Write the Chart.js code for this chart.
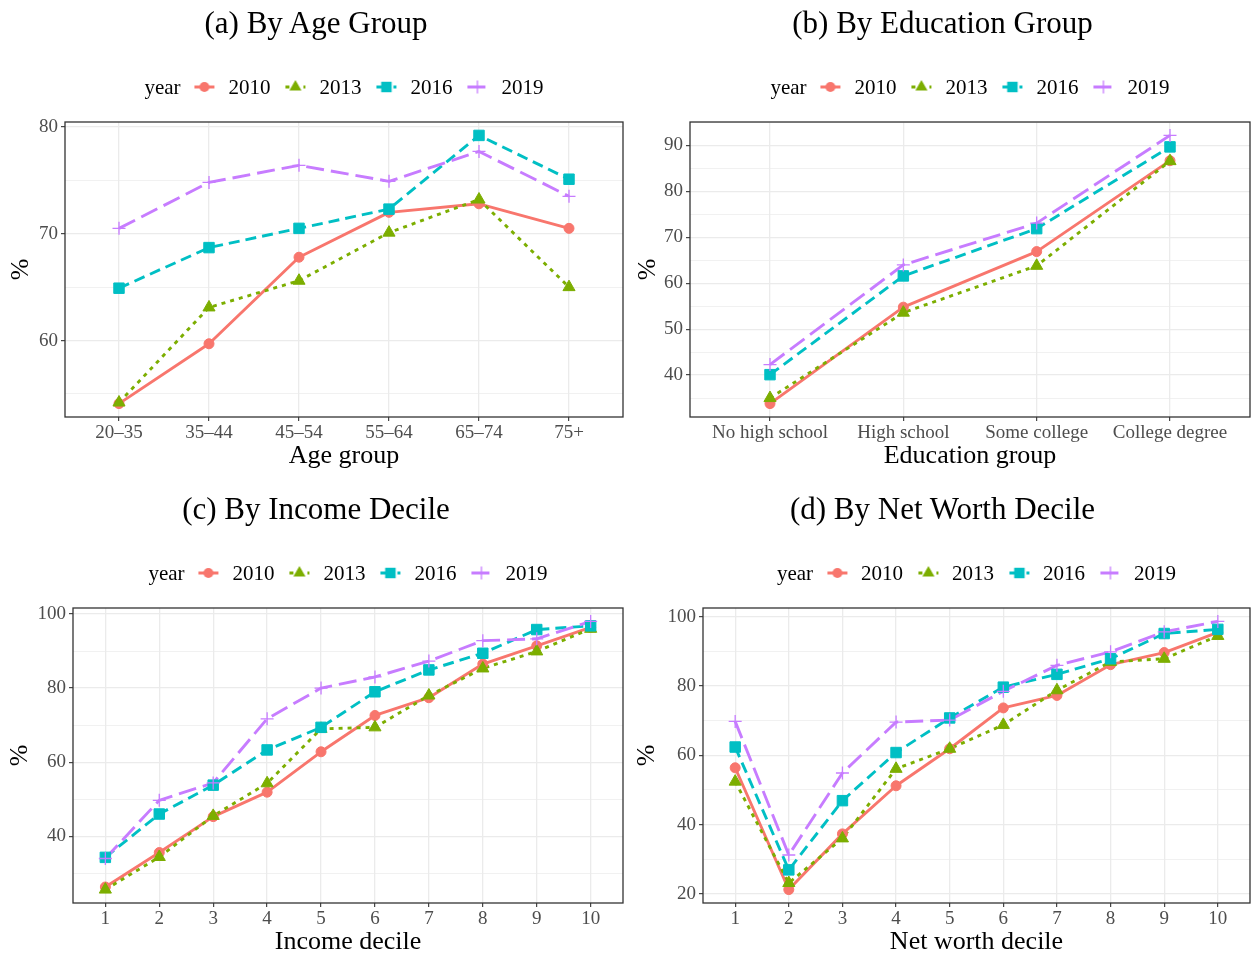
<!DOCTYPE html>
<html lang="en">
<head>
<meta charset="UTF-8">
<title>Share by group and survey year</title>
<script src="https://cdn.jsdelivr.net/npm/chart.js"></script>
<style>
  body { margin: 0; background: #fff; font-family: 'Liberation Serif', 'Times New Roman', serif; }
  #page { position: relative; width: 1253px; height: 956px; overflow: hidden; }
  .panel { position: absolute; height: 470px; }
  .panel canvas.plot { position: absolute; left: 0; top: 0; }
  .title { position: absolute; left: 0; top: 5px; width: 100%; text-align: center; font-size: 31px; line-height: 36px; color: #000; }
  .legend { position: absolute; top: 74px; display: flex; align-items: center; font-size: 21px; line-height: 26px; white-space: nowrap; transform: translateX(-50%); color: #000; }
  .legend .head { margin-right: 12px; }
  .legend .key { margin-right: 12px; }
  .legend .lab { margin-right: 13px; }
  .legend .lab:last-child { margin-right: 0; }
</style>
</head>
<body>
<div id="page"></div>
<script>
// years (legend)
const years = ['2010', '2013', '2016', '2019'];

// (a) by age group
const ageGroups = ['20–35', '35–44', '45–54', '55–64', '65–74', '75+'];
const age2010 = [54.1, 59.7, 67.8, 72.0, 72.8, 70.5];
const age2013 = [54.2, 63.1, 65.6, 70.1, 73.2, 65.0];
const age2016 = [64.9, 68.7, 70.5, 72.3, 79.2, 75.1];
const age2019 = [70.5, 74.8, 76.4, 74.9, 77.7, 73.5];
const ageTicks = [60, 70, 80];

// (b) by education group
const eduGroups = ['No high school', 'High school', 'Some college', 'College degree'];
const edu2010 = [33.8, 54.8, 66.9, 86.7];
const edu2013 = [35.0, 53.6, 63.8, 86.6];
const edu2016 = [40.1, 61.6, 71.9, 89.7];
const edu2019 = [42.3, 64.0, 73.1, 92.2];
const eduTicks = [40, 50, 60, 70, 80, 90];

// (c) by income decile
const incDeciles = ['1', '2', '3', '4', '5', '6', '7', '8', '9', '10'];
const inc2010 = [26.3, 35.6, 45.3, 51.9, 62.8, 72.6, 77.4, 86.5, 91.4, 96.4];
const inc2013 = [25.6, 34.4, 45.5, 54.3, 69.0, 69.4, 78.0, 85.3, 89.9, 96.0];
const inc2016 = [34.3, 46.0, 53.8, 63.3, 69.4, 79.0, 84.9, 89.4, 95.8, 96.8];
const inc2019 = [34.0, 49.7, 54.4, 71.7, 80.0, 83.0, 87.3, 92.8, 93.3, 98.0];
const incTicks = [40, 60, 80, 100];

// (d) by net worth decile
const nwDeciles = ['1', '2', '3', '4', '5', '6', '7', '8', '9', '10'];
const nw2010 = [56.4, 21.2, 37.3, 51.2, 61.9, 73.7, 77.3, 86.2, 89.7, 95.5];
const nw2013 = [52.4, 23.1, 36.0, 56.1, 61.9, 68.8, 78.8, 87.0, 87.9, 94.5];
const nw2016 = [62.4, 26.9, 46.9, 60.8, 70.8, 79.7, 83.4, 87.9, 95.2, 96.4];
const nw2019 = [69.8, 31.2, 54.9, 69.6, 70.2, 78.5, 86.0, 89.9, 95.7, 98.7];
const nwTicks = [20, 40, 60, 80, 100];

// series styles (ggplot hue palette)
const colors = ['#F8766D', '#7CAE00', '#00BFC4', '#C77CFF'];
const dashes = [[], [4, 5], [11, 6], [18, 7]];
const shapes = ['circle', 'triangle', 'rect', 'cross'];
const radii = [5, 7, 7.4, 6.5];

const panels = [
  { title: '(a) By Age Group', cats: ageGroups, series: [age2010, age2013, age2016, age2019], ticks: ageTicks,
    xTitle: 'Age group', left: 0, top: 0, width: 632, yWidth: 65, padRight: 9, yTitlePad: 7 },
  { title: '(b) By Education Group', cats: eduGroups, series: [edu2010, edu2013, edu2016, edu2019], ticks: eduTicks,
    xTitle: 'Education group', left: 632, top: 0, width: 621, yWidth: 58, padRight: 3, yTitlePad: 2 },
  { title: '(c) By Income Decile', cats: incDeciles, series: [inc2010, inc2013, inc2016, inc2019], ticks: incTicks,
    xTitle: 'Income decile', left: 0, top: 486, width: 632, yWidth: 73, padRight: 9, yTitlePad: 6 },
  { title: '(d) By Net Worth Decile', cats: nwDeciles, series: [nw2010, nw2013, nw2016, nw2019], ticks: nwTicks,
    xTitle: 'Net worth decile', left: 632, top: 486, width: 621, yWidth: 71, padRight: 3, yTitlePad: 1 }
];

Chart.defaults.font.family = "'Liberation Serif', 'Times New Roman', serif";

const framePlugin = {
  id: 'frame',
  afterDatasetsDraw(chart) {
    const { left, top, right, bottom } = chart.chartArea;
    const ctx = chart.ctx;
    ctx.save();
    ctx.strokeStyle = '#333333';
    ctx.lineWidth = 1.3;
    ctx.strokeRect(left, top, right - left, bottom - top);
    ctx.restore();
  }
};

function drawMarker(ctx, style, x, y, r) {
  ctx.beginPath();
  if (style === 'circle') {
    ctx.arc(x, y, r, 0, Math.PI * 2);
    ctx.fill();
  } else if (style === 'triangle') {
    for (let i = 0; i < 3; i++) {
      const a = i * 2 * Math.PI / 3;
      const px = x + Math.sin(a) * r, py = y - Math.cos(a) * r;
      if (i === 0) ctx.moveTo(px, py); else ctx.lineTo(px, py);
    }
    ctx.closePath();
    ctx.fill();
  } else if (style === 'rect') {
    const s = r * Math.SQRT1_2;
    ctx.rect(x - s, y - s, 2 * s, 2 * s);
    ctx.fill();
  } else {
    ctx.lineWidth = 1.3;
    ctx.moveTo(x - r, y); ctx.lineTo(x + r, y);
    ctx.moveTo(x, y - r); ctx.lineTo(x, y + r);
    ctx.stroke();
  }
}

function legendKey(k) {
  const c = document.createElement('canvas');
  c.width = 24; c.height = 24; c.className = 'key';
  const ctx = c.getContext('2d');
  ctx.strokeStyle = colors[k];
  ctx.fillStyle = colors[k];
  ctx.lineWidth = 3;
  ctx.setLineDash(dashes[k]);
  ctx.beginPath();
  ctx.moveTo(2, 12); ctx.lineTo(22, 12);
  ctx.stroke();
  ctx.setLineDash([]);
  drawMarker(ctx, shapes[k], 12, 12, radii[k]);
  return c;
}

function makePanel(p) {
  const page = document.getElementById('page');
  const div = document.createElement('div');
  div.className = 'panel';
  div.style.left = p.left + 'px';
  div.style.top = p.top + 'px';
  div.style.width = p.width + 'px';
  page.appendChild(div);

  const canvas = document.createElement('canvas');
  canvas.className = 'plot';
  canvas.width = p.width;
  canvas.height = 470;
  div.appendChild(canvas);

  const title = document.createElement('div');
  title.className = 'title';
  title.textContent = p.title;
  div.appendChild(title);

  const legend = document.createElement('div');
  legend.className = 'legend';
  const head = document.createElement('span');
  head.className = 'head';
  head.textContent = 'year';
  legend.appendChild(head);
  years.forEach((yr, k) => {
    legend.appendChild(legendKey(k));
    const lab = document.createElement('span');
    lab.className = 'lab';
    lab.textContent = yr;
    legend.appendChild(lab);
  });
  div.appendChild(legend);

  // ggplot-like 5% expansion of the data range
  const all = p.series.flat();
  const lo = Math.min(...all), hi = Math.max(...all);
  const yMin = lo - (hi - lo) * 0.05, yMax = hi + (hi - lo) * 0.05;
  const half = (p.ticks[1] - p.ticks[0]) / 2;
  const yVals = [];
  for (let v = p.ticks[0] - half; v <= p.ticks[p.ticks.length - 1] + half + 1e-9; v += half) {
    if (v >= yMin && v <= yMax) yVals.push(v);
  }
  const isMajor = v => p.ticks.includes(v);

  const datasets = [];
  p.series.forEach((vals, k) => {
    datasets.push({
      label: years[k] + ' line',
      data: vals.map((v, i) => ({ x: i, y: v })),
      borderColor: colors[k],
      borderWidth: 2.9,
      borderDash: dashes[k],
      borderJoinStyle: 'round',
      pointRadius: 0,
      fill: false,
      tension: 0,
      order: 8 - k
    });
  });
  p.series.forEach((vals, k) => {
    datasets.push({
      label: years[k],
      data: vals.map((v, i) => ({ x: i, y: v })),
      showLine: false,
      pointStyle: shapes[k],
      pointRadius: radii[k],
      pointBackgroundColor: colors[k],
      pointBorderColor: colors[k],
      pointBorderWidth: k === 3 ? 1.3 : 1,
      order: 4 - k
    });
  });

  const chart = new Chart(canvas, {
    type: 'line',
    data: { datasets },
    options: {
      responsive: false,
      animation: false,
      devicePixelRatio: 1,
      layout: { autoPadding: false, padding: { top: 122, right: p.padRight, bottom: 0, left: 0 } },
      plugins: { legend: { display: false }, tooltip: { enabled: false } },
      scales: {
        x: {
          type: 'linear',
          bounds: 'data',
          min: -0.6,
          max: p.cats.length - 0.4,
          afterBuildTicks: s => { s.ticks = p.cats.map((_, i) => ({ value: i })); },
          afterFit: s => { s.height = 53; s.paddingLeft = 0; s.paddingRight = 0; },
          grid: { color: '#EBEBEB', lineWidth: 1.3, tickLength: 4, tickColor: '#333333', tickWidth: 1.1 },
          border: { display: false },
          ticks: { color: '#4D4D4D', font: { size: 19 }, padding: 1, autoSkip: false, maxRotation: 0,
                   callback: v => p.cats[v] ?? '' },
          title: { display: true, text: p.xTitle, color: '#000', font: { size: 26, lineHeight: 1.1 }, padding: { top: 0, bottom: 0 } }
        },
        y: {
          type: 'linear',
          bounds: 'data',
          min: yMin,
          max: yMax,
          afterBuildTicks: s => { s.ticks = yVals.map(v => ({ value: v })); },
          afterFit: s => { s.width = p.yWidth; s.paddingTop = 0; s.paddingBottom = 0; },
          grid: {
            color: '#EBEBEB',
            lineWidth: c => (isMajor(c.tick.value) ? 1.3 : 0.7),
            tickLength: 4,
            tickColor: c => (isMajor(c.tick.value) ? '#333333' : 'rgba(0,0,0,0)'),
            tickWidth: 1.1
          },
          border: { display: false },
          ticks: { color: '#4D4D4D', font: { size: 19 }, padding: 3, autoSkip: false,
                   callback: v => (isMajor(v) ? String(v) : '') },
          title: { display: true, text: '%', color: '#000', font: { size: 26, lineHeight: 1.1 }, padding: { top: p.yTitlePad, bottom: 0 } }
        }
      }
    },
    plugins: [framePlugin]
  });

  const ca = chart.chartArea;
  legend.style.left = ((ca.left + ca.right) / 2) + 'px';
}

panels.forEach(makePanel);
</script>
</body>
</html>
